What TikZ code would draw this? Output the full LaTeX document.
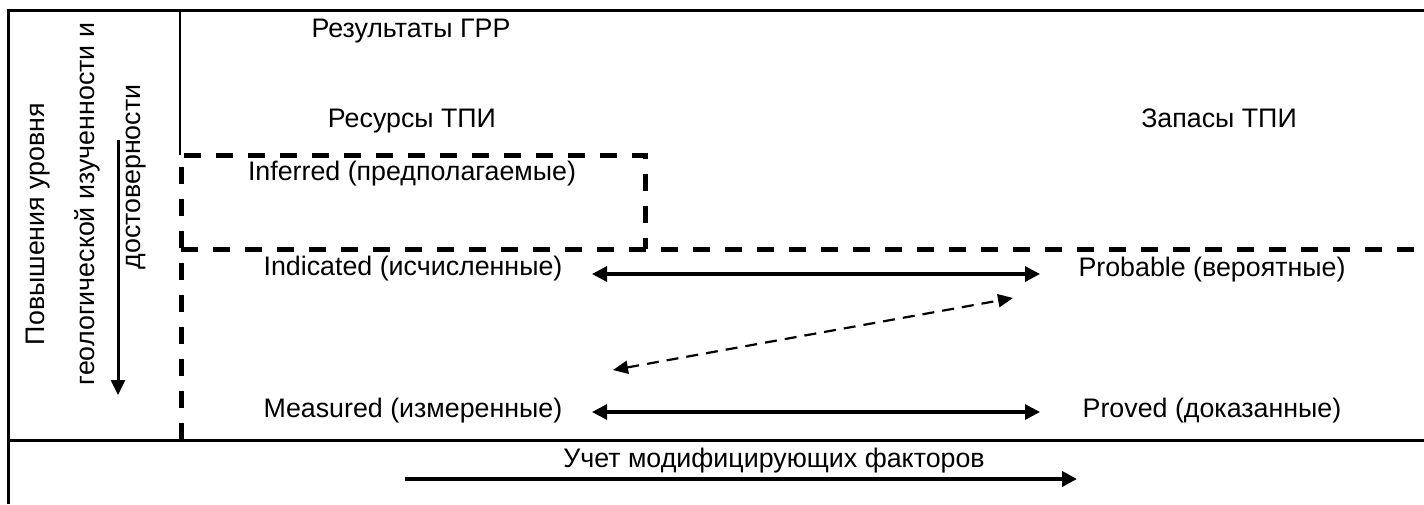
\documentclass[tikz,border=0pt]{standalone}
\usepackage{fontspec}
\setmainfont{Liberation Sans}
\usetikzlibrary{arrows.meta}
\begin{document}
\begin{tikzpicture}[x=1pt,y=-1pt,
  lbl/.style={font=\fontsize{26.8}{30}\selectfont, inner sep=0pt, anchor=base},
  vlbl/.style={font=\fontsize{26.8}{30}\selectfont, inner sep=0pt, rotate=90},
  frame/.style={line width=3pt},
  bigdash/.style={line width=5pt, dash pattern=on 17pt off 15pt},
  dblarrow/.style={line width=3.2pt, {Triangle[length=15pt,width=15pt]}-{Triangle[length=15pt,width=15pt]}},
  dasharrow/.style={line width=2.2pt, dash pattern=on 12pt off 8pt, {Triangle[length=15pt,width=13pt]}-{Triangle[length=15pt,width=13pt]}},
  onearrow/.style={line width=4pt, -{Triangle[length=15pt,width=15pt]}},
  vertarrow/.style={line width=3pt, -{Triangle[length=15pt,width=14pt]}}]
\useasboundingbox (0,0) rectangle (1424,504);
\fill[white] (0,0) rectangle (1424,504);

% frame lines
\coordinate (tl) at (8,10);
\coordinate (tr) at (1424,10);
\coordinate (bl) at (8,504);
\coordinate (ml) at (8,440);
\coordinate (mr) at (1424,440);
\coordinate (vt) at (180,10);
\coordinate (vb) at (180,155);
\draw[frame] (bl) -- (tl) -- (tr);
\draw[frame] (ml) -- (mr);
\draw[line width=2pt] (vt) -- (vb);

% dashed region lines
\coordinate (d1) at (181,440);
\coordinate (d2) at (181,155);
\coordinate (d3) at (645,155);
\coordinate (d4) at (645,249);
\coordinate (d5) at (181,249);
\coordinate (d6) at (1424,249);
\draw[bigdash] (d1) -- (d2) -- (d3) -- (d4);
\draw[bigdash] (d5) -- (d6);

% texts
\node[lbl] (res) at (411,37) {Результаты ГРР};
\node[lbl] (resurs) at (412,127) {Ресурсы ТПИ};
\node[lbl] (zapas) at (1219,127) {Запасы ТПИ};
\node[lbl] (inf) at (412,180) {Inferred (предполагаемые)};
\node[lbl] (ind) at (413,275) {Indicated (исчисленные)};
\node[lbl] (prob) at (1212,276) {Probable (вероятные)};
\node[lbl] (meas) at (413,417) {Measured (измеренные)};
\node[lbl] (prov) at (1212,417) {Proved (доказанные)};
\node[lbl] (uchet) at (774,467) {Учет модифицирующих факторов};

\node[vlbl] (v1) at (38,224) {Повышения уровня};
\node[vlbl] (v2) at (87,204) {геологической изученности и};
\node[vlbl] (v3) at (136,177) {достоверности};

% arrows
\coordinate (a1l) at (592,274);
\coordinate (a1r) at (1040,274);
\coordinate (a2l) at (592,412);
\coordinate (a2r) at (1040,412);
\coordinate (a3l) at (613,370);
\coordinate (a3r) at (1013,298);
\coordinate (a4l) at (405,479);
\coordinate (a4r) at (1077,479);
\coordinate (a5t) at (118,140);
\coordinate (a5b) at (118,395);
\draw[dblarrow] (a1l) -- (a1r);
\draw[dblarrow] (a2l) -- (a2r);
\draw[dasharrow] (a3l) -- (a3r);
\draw[onearrow] (a4l) -- (a4r);
\draw[vertarrow] (a5t) -- (a5b);
\end{tikzpicture}
\end{document}
